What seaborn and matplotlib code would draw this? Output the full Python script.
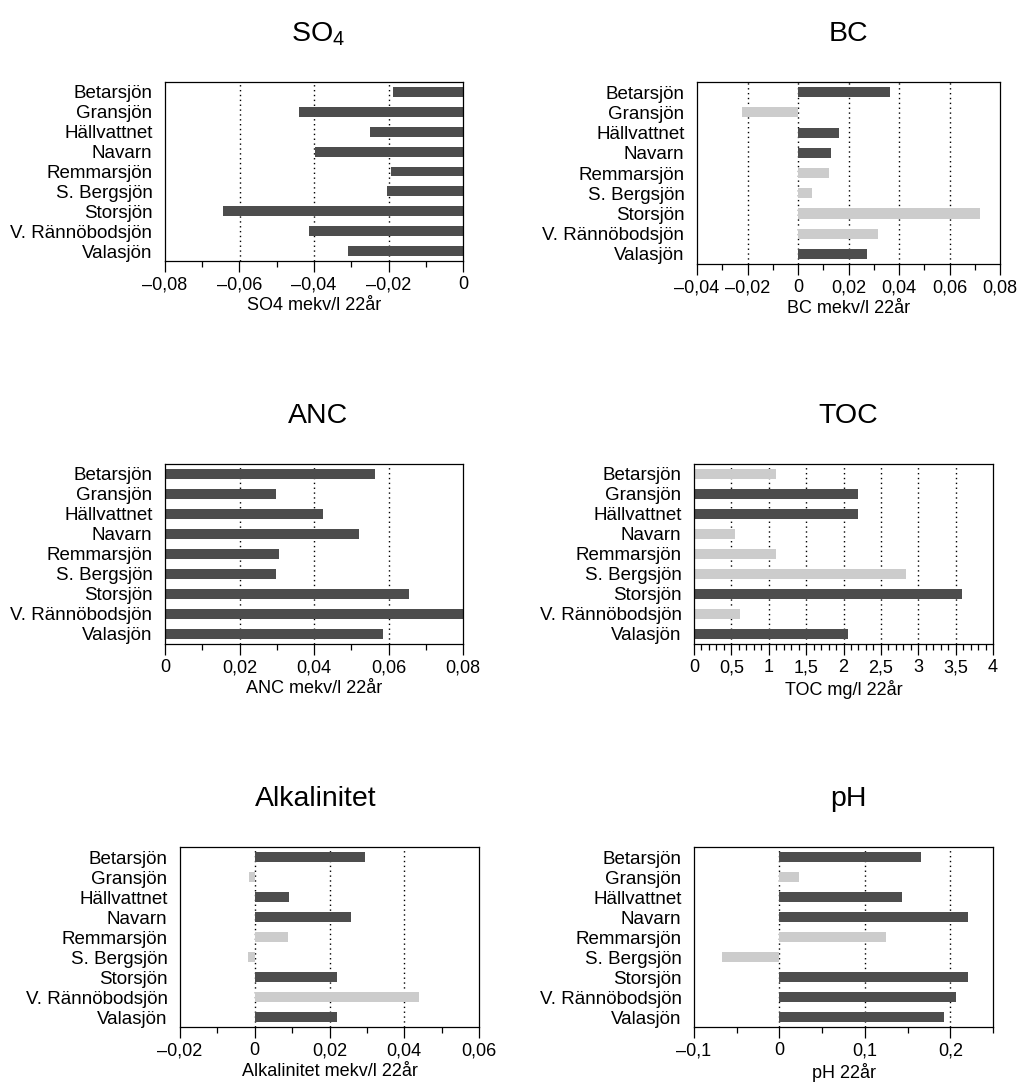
import matplotlib
matplotlib.use("Agg")
import matplotlib.pyplot as plt
import seaborn as sns
from matplotlib.ticker import FuncFormatter, MultipleLocator

# Sjöar (samma ordning i alla paneler)
lakes = [
    "Betarsjön",
    "Gransjön",
    "Hällvattnet",
    "Navarn",
    "Remmarsjön",
    "S. Bergsjön",
    "Storsjön",
    "V. Rännöbodsjön",
    "Valasjön",
]

# Förändring över 22 år
so4 = [-0.0187, -0.0441, -0.0251, -0.0396, -0.0192, -0.0203, -0.0645, -0.0414, -0.0310]
so4_sig = [1, 1, 1, 1, 1, 1, 1, 1, 1]

bc = [0.0363, -0.0221, 0.0162, 0.0130, 0.0122, 0.0055, 0.0722, 0.0316, 0.0272]
bc_sig = [1, 0, 1, 1, 0, 0, 0, 0, 1]

anc = [0.0563, 0.0297, 0.0423, 0.0522, 0.0305, 0.0297, 0.0654, 0.0815, 0.0586]
anc_sig = [1, 1, 1, 1, 1, 1, 1, 1, 1]

toc = [1.10, 2.20, 2.20, 0.55, 1.10, 2.83, 3.59, 0.62, 2.06]
toc_sig = [0, 1, 1, 0, 0, 0, 1, 0, 1]

alk = [0.0296, -0.0015, 0.0092, 0.0258, 0.0088, -0.0018, 0.0221, 0.0440, 0.0221]
alk_sig = [1, 0, 1, 1, 0, 0, 1, 0, 1]

ph = [0.1656, 0.0227, 0.1434, 0.2207, 0.1246, -0.0676, 0.2207, 0.2066, 0.1926]
ph_sig = [1, 0, 1, 1, 0, 0, 1, 1, 1]

DARK = "#4d4d4d"
LIGHT = "#cccccc"

sns.set_style("ticks")
plt.rcParams["font.family"] = ["Liberation Sans", "DejaVu Sans"]
plt.rcParams["mathtext.fontset"] = "custom"
plt.rcParams["mathtext.rm"] = "Liberation Sans"
plt.rcParams["mathtext.it"] = "Liberation Sans:italic"
plt.rcParams["text.color"] = "black"
plt.rcParams["axes.labelcolor"] = "black"
plt.rcParams["xtick.color"] = "black"
plt.rcParams["ytick.color"] = "black"


def sv_fmt(v, pos=None):
    if abs(v) < 1e-12:
        return "0"
    return f"{v:g}".replace(".", ",").replace("-", "\u2013")


# (titel, värden, signifikans, xlabel, xlim, major, minor, gridlinjer, axes-rect, titel-x, titel-y)
panels = [
    ("SO$_{\\mathrm{4}}$", so4, so4_sig, "SO4 mekv/l 22år", (-0.08, 0), 0.02, 0.01,
     [-0.06, -0.04, -0.02], [165, 82, 463, 261], 318, 41),
    ("BC", bc, bc_sig, "BC mekv/l 22år", (-0.04, 0.08), 0.02, 0.01,
     [-0.02, 0, 0.02, 0.04, 0.06], [697, 82, 1000, 264], 848, 41),
    ("ANC", anc, anc_sig, "ANC mekv/l 22år", (0, 0.08), 0.02, 0.01,
     [0.02, 0.04, 0.06], [165, 464, 463, 644], 318, 423),
    ("TOC", toc, toc_sig, "TOC mg/l 22år", (0, 4), 0.5, 0.1,
     [0.5, 1, 1.5, 2, 2.5, 3, 3.5], [694, 464, 993, 644], 848, 423),
    ("Alkalinitet", alk, alk_sig, "Alkalinitet mekv/l 22år", (-0.02, 0.06), 0.02, 0.01,
     [0, 0.02, 0.04], [180, 847, 479, 1027], 316, 806),
    ("pH", ph, ph_sig, "pH 22år", (-0.1, 0.25), 0.1, 0.05,
     [0, 0.1, 0.2], [694, 847, 993, 1027], 848, 806),
]

W, H = 1019, 1084
fig = plt.figure(figsize=(W / 100, H / 100), dpi=100)

for title, vals, sig, xlabel, xlim, major, minor, grid, rect, tx, ty in panels:
    x0, y0, x1, y1 = rect
    ax = fig.add_axes([x0 / W, 1 - y1 / H, (x1 - x0) / W, (y1 - y0) / H])
    colors = [DARK if s else LIGHT for s in sig]

    for g in grid:
        ax.axvline(g, color="black", lw=1.0, ls=(0, (1, 2.5)), zorder=0)

    sns.barplot(x=vals, y=lakes, hue=lakes, palette=colors, legend=False,
                orient="h", width=0.5, linewidth=0, saturation=1, ax=ax, zorder=2)

    ax.set_xlim(*xlim)
    ax.set_ylim(8.5, -0.5)
    ax.xaxis.set_major_locator(MultipleLocator(major))
    ax.xaxis.set_minor_locator(MultipleLocator(minor))
    ax.xaxis.set_major_formatter(FuncFormatter(sv_fmt))

    ax.tick_params(axis="x", which="major", length=8, width=0.9, pad=3,
                   labelsize=13, color="black", direction="out")
    ax.tick_params(axis="x", which="minor", length=4.5, width=0.9, color="black")
    ax.tick_params(axis="y", length=0, pad=9, labelsize=13.5)

    for sp in ax.spines.values():
        sp.set_visible(True)
        sp.set_color("black")
        sp.set_linewidth(0.9)

    ax.set_xlabel(xlabel, fontsize=13, labelpad=3)
    ax.set_ylabel("")
    fig.text(tx / W, 1 - ty / H, title, fontsize=20.5, ha="center", va="baseline")

fig.savefig("out.png", dpi=100)
